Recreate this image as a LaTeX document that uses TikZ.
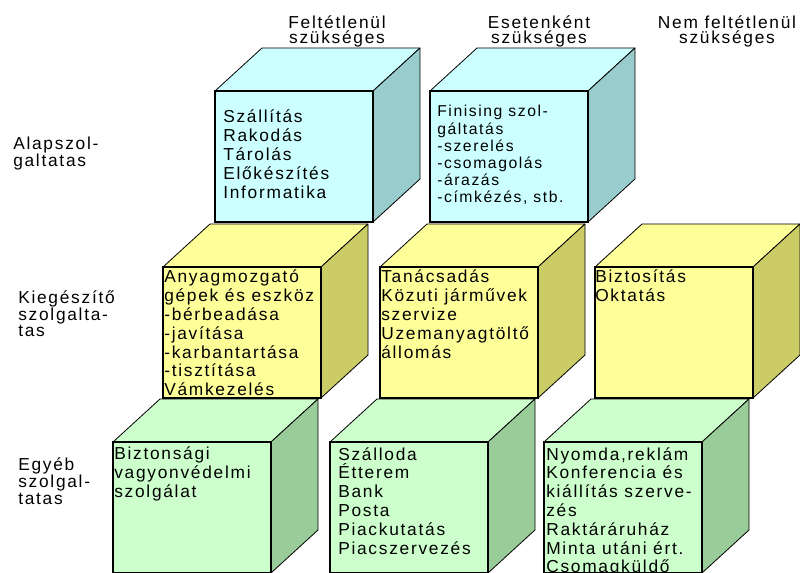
\documentclass[tikz,border=0pt]{standalone}
\usepackage{fontspec}
\setmainfont{Liberation Sans}
\newfontfamily\spaced[LetterSpace=10]{Liberation Sans}

\definecolor{bluefront}{HTML}{CCFFFF}
\definecolor{blueside}{HTML}{99CCCC}
\definecolor{yellowfront}{HTML}{FFFF99}
\definecolor{yellowside}{HTML}{CCCC66}
\definecolor{greenfront}{HTML}{CCFFCC}
\definecolor{greenside}{HTML}{99CC99}

% #1,#2: top-left corner of the front face; #3 front/top colour; #4 side colour
\newcommand\kocka[4]{%
  \filldraw[fill=#3, facet] (#1,#2) -- (#1+47,#2-43) -- (#1+205,#2-43) -- (#1+158,#2) -- cycle;
  \filldraw[fill=#4, facet] (#1+158,#2) -- (#1+205,#2-43) -- (#1+205,#2+88) -- (#1+158,#2+131) -- cycle;
  \filldraw[fill=#3, frontface] (#1,#2) rectangle (#1+158,#2+131);
}

\begin{document}
\begin{tikzpicture}[x=0.75pt, y=-0.75pt,
  facet/.style={draw=black, line width=0.6pt, line join=round},
  frontface/.style={draw=black, line width=0.9pt},
  % multi-line nodes: the base anchor sits on the last line
  cubetext/.style={font=\spaced\fontsize{13}{14.1}\selectfont, anchor=base west, align=left, inner sep=0pt},
  cubetextsmall/.style={font=\spaced\fontsize{11.8}{12.9}\selectfont, anchor=base west, align=left, inner sep=0pt},
  header/.style={font=\spaced\fontsize{13}{11.5}\selectfont, anchor=base, align=center, inner sep=0pt},
  rowlabel/.style={font=\spaced\fontsize{13}{10.5}\selectfont, anchor=base west, align=left, inner sep=0pt}]
\useasboundingbox (0,0) rectangle (800,573);
\clip (0,0) rectangle (800,573);

% bottom row
\kocka{113}{442}{greenfront}{greenside}
\kocka{330}{442}{greenfront}{greenside}
\kocka{544}{442}{greenfront}{greenside}
% middle row
\kocka{163}{267}{yellowfront}{yellowside}
\kocka{380}{267}{yellowfront}{yellowside}
\kocka{595}{267}{yellowfront}{yellowside}
% top row
\kocka{215}{91}{bluefront}{blueside}
\kocka{430}{91}{bluefront}{blueside}

% column headers
\node[header] (h1) at (337,43.5) {Feltétlenül\\szükséges};
\node[header] (h2) at (539,43.5) {Esetenként\\szükséges};
\node[header] (h3) at (727,44) {Nem feltétlenül\\szükséges};

% row labels
\node[rowlabel] (r1) at (13,167) {Alapszol-\\galtatas};
\node[rowlabel] (r2) at (18,337) {Kiegészítő\\szolgalta-\\tas};
\node[rowlabel] (r3) at (18,504) {Egyéb\\szolgal-\\tatas};

% cube contents
\node[cubetext] (c11) at (223,198.2) {Szállítás\\Rakodás\\Tárolás\\Előkészítés\\Informatika};
\node[cubetextsmall] (c12) at (437,203) {Finising szol-\\gáltatás\\-szerelés\\-csomagolás\\-árazás\\-címkézés, stb.};

\node[cubetext] (c21) at (164,395.8) {Anyagmozgató\\gépek és eszköz\\-bérbeadása\\-javítása\\-karbantartása\\-tisztítása\\Vámkezelés};
\node[cubetext] (c22) at (381,358.2) {Tanácsadás\\Közuti járművek\\szervize\\Uzemanyagtöltő\\állomás};
\node[cubetext] (c23) at (595,301.8) {Biztosítás\\Oktatás};

\node[cubetext] (c31) at (114,497.6) {Biztonsági\\vagyonvédelmi\\szolgálat};
\node[cubetext] (c32) at (338,554) {Szálloda\\Étterem\\Bank\\Posta\\Piackutatás\\Piacszervezés};
\node[cubetext] (c33) at (546,572.8) {Nyomda,reklám\\Konferencia és\\kiállítás szerve-\\zés\\Raktáráruház\\Minta utáni ért.\\Csomagküldő};
\end{tikzpicture}
\end{document}
